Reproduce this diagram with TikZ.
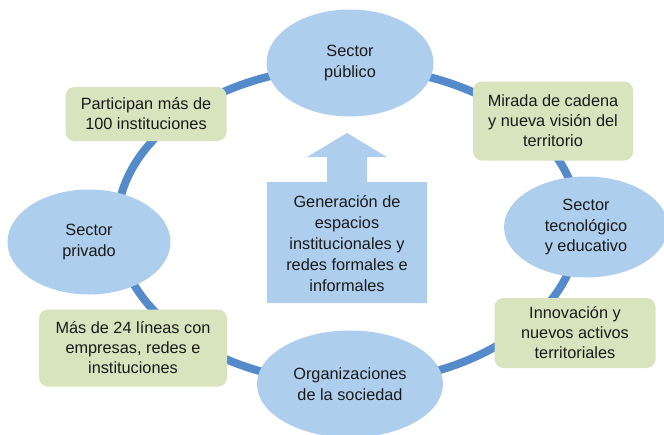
\documentclass[tikz,border=0pt]{standalone}
\usepackage{fontspec}
\setmainfont{Liberation Sans}
\usetikzlibrary{shapes.geometric}
\definecolor{ringblue}{RGB}{86,139,203}
\definecolor{lightblue}{RGB}{174,206,237}
\definecolor{lightgreen}{RGB}{215,228,189}
\definecolor{txt}{RGB}{26,26,26}
\tikzset{
  sector/.style={ellipse, fill=lightblue, draw=none, inner sep=0pt, align=center, text=txt,
    font=\fontsize{16.3}{20.5}\selectfont},
  note/.style={rectangle, rounded corners=9pt, fill=lightgreen, draw=none, inner sep=0pt, align=center, text=txt,
    font=\fontsize{16.3}{20}\selectfont},
  ring/.style={draw=ringblue, line width=8pt},
  plain/.style={align=center, text=txt, inner sep=0pt, font=\fontsize{16.3}{21}\selectfont}
}
\begin{document}
\begin{tikzpicture}[x=1pt,y=-1pt]
\useasboundingbox (0,0) rectangle (664,434);
% ring
\draw[ring] (348,225) ellipse [x radius=231, y radius=158];
% central arrow box
\fill[lightblue] (267,182) -- (327,182) -- (327,157) -- (307,157) -- (347,133) -- (387,157)
  -- (367,157) -- (367,182) -- (427,182) -- (427,303) -- (267,303) -- cycle;
\node[plain] (gen) at (347,244) {Generación de\\espacios\\institucionales y\\redes formales e\\informales};
% sectors
\node[sector, minimum width=167pt, minimum height=107pt] (pub) at (350,63) {Sector\\público};
\node[sector, minimum width=164pt, minimum height=101pt] (tec) at (586,227) {Sector\\tecnológico\\y educativo};
\node[sector, minimum width=163pt, minimum height=105pt] (priv) at (89,242) {Sector\\privado};
\node[sector, minimum width=186pt, minimum height=107pt] (org) at (350,384) {Organizaciones\\de la sociedad};
% notes
\node[note, minimum width=161pt, minimum height=54pt] (part) at (146,114) {Participan más de\\100 instituciones};
\node[note, minimum width=160pt, minimum height=79pt] (mir) at (553,121) {Mirada de cadena\\y nueva visión del\\territorio};
\node[note, minimum width=161pt, minimum height=70pt] (inn) at (575,333) {Innovación y\\nuevos activos\\territoriales};
\node[note, minimum width=188pt, minimum height=77pt] (mas) at (133,348) {Más de 24 líneas con\\empresas, redes e\\instituciones};
\end{tikzpicture}
\end{document}
